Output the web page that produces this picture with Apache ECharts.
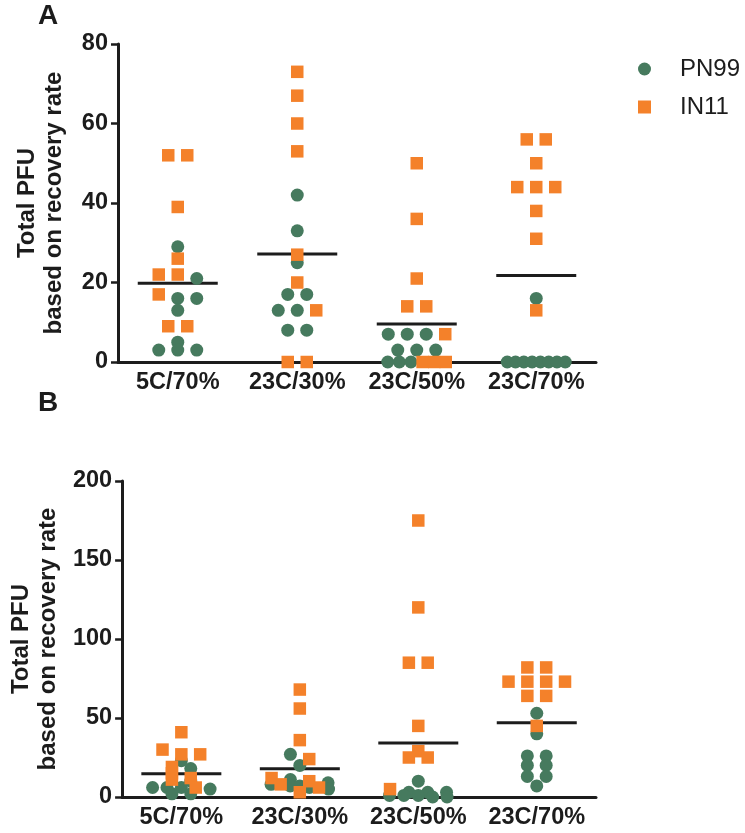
<!DOCTYPE html>
<html>
<head>
<meta charset="utf-8">
<script src="https://cdn.jsdelivr.net/npm/echarts@6/dist/echarts.min.js"></script>
<style>
  html, body { margin: 0; padding: 0; background: #fff; }
  #chart { width: 745px; height: 833px; }
</style>
</head>
<body>
<div id="chart"></div>
<script>
const groups = ['5C/70%', '23C/30%', '23C/50%', '23C/70%']
const ticksA = [0, 20, 40, 60, 80]
const ticksB = [0, 50, 100, 150, 200]

// panel A, one array per group
const pn99A = [
  [29, 21, 16, 16, 13, 5, 3, 3, 3],
  [42, 33, 25, 17, 17, 13, 13, 8, 8],
  [7, 7, 7, 3, 3, 3, 0, 0, 0],
  [16, 0, 0, 0, 0, 0, 0, 0, 0]
]
const in11A = [
  [52, 52, 39, 26, 22, 22, 17, 9, 9],
  [73, 67, 60, 53, 27, 20, 13, 0, 0],
  [50, 36, 21, 14, 14, 7, 0, 0, 0],
  [56, 56, 50, 44, 44, 44, 38, 31, 13]
]
// panel B
const pn99B = [
  [23, 18, 10, 6, 6, 6, 5, 2, 2],
  [27, 20, 11, 9, 8, 7, 7, 6, 5],
  [10, 3, 3, 3, 1, 1, 1, 0, 0],
  [53, 40, 26, 26, 20, 20, 13, 13, 7]
]
const in11B = [
  [41, 30, 27, 27, 19, 15, 12, 11, 6],
  [68, 56, 36, 24, 12, 10, 8, 6, 3],
  [175, 120, 85, 85, 45, 29, 25, 25, 5],
  [82, 82, 73, 73, 73, 73, 64, 64, 45]
]

const GREEN = '#467a5e'
const ORANGE = '#f4812a'
const INK = '#1c1c1c'
const FONT = '"Liberation Sans", Arial, sans-serif'

const gridLeft = 118
const gridW = 478
const pxPerCat = gridW / groups.length
const STEP = 19 / pxPerCat      // spacing of neighbours in a row
const MAXHALF = 29 / pxPerCat   // widest a row may spread

// lay points of one group out in rows, like a column scatter
function swarm(pn, inn, pxPerUnit) {
  const pts = []
  pn.forEach(v => pts.push({ v, s: 0 }))
  inn.forEach(v => pts.push({ v, s: 1 }))
  pts.sort((a, b) => b.v - a.v || a.s - b.s)
  const rows = []
  pts.forEach(p => {
    const r = rows[rows.length - 1]
    if (r && (r.top - p.v) * pxPerUnit < 6) r.items.push(p)
    else rows.push({ top: p.v, items: [p] })
  })
  rows.forEach(r => {
    const n = r.items.length
    let step = STEP
    if (n > 1 && (n - 1) / 2 * step > MAXHALF) step = 2 * MAXHALF / (n - 1)
    r.items.forEach((p, i) => { p.dx = (i - (n - 1) / 2) * step })
  })
  return pts
}

function panelSeries(pn, inn, idx, pxPerUnit) {
  const green = [], orange = [], means = []
  groups.forEach((g, gi) => {
    swarm(pn[gi], inn[gi], pxPerUnit).forEach(p => {
      (p.s === 0 ? green : orange).push([gi + p.dx, p.v])
    })
    const all = pn[gi].concat(inn[gi])
    means.push([gi, all.reduce((a, b) => a + b, 0) / all.length])
  })
  const base = { type: 'scatter', xAxisIndex: idx * 2 + 1, yAxisIndex: idx, clip: false, silent: true }
  return [
    { ...base, name: 'mean', data: means, symbol: 'rect', symbolSize: [80, 3], itemStyle: { color: INK, opacity: 1 }, z: 2 },
    { ...base, name: 'PN99', data: green, symbol: 'circle', symbolSize: 13, itemStyle: { color: GREEN, opacity: 1 }, z: 3 },
    { ...base, name: 'IN11', data: orange, symbol: 'rect', symbolSize: 12.5, itemStyle: { color: ORANGE, opacity: 1 }, z: 4 }
  ]
}

function catAxis(gi) {
  return {
    type: 'category', gridIndex: gi, data: groups, boundaryGap: true,
    axisLine: { onZero: false, lineStyle: { color: INK, width: 3 } },
    axisTick: { interval: 0, alignWithLabel: true, length: 7, lineStyle: { color: INK, width: 2.5 } },
    axisLabel: { interval: 0, color: INK, fontSize: 23.5, fontWeight: 'bold', fontFamily: FONT, margin: 9 },
    splitLine: { show: false }
  }
}
function posAxis(gi) {
  return { type: 'value', gridIndex: gi, min: -0.5, max: groups.length - 0.5, show: false }
}
function valAxis(gi, ticks) {
  return {
    type: 'value', gridIndex: gi,
    min: ticks[0], max: ticks[ticks.length - 1], interval: ticks[1] - ticks[0],
    name: 'Total PFU\nbased on recovery rate', nameLocation: 'middle', nameRotate: 90, nameGap: 50,
    nameTextStyle: { color: INK, fontSize: 24, fontWeight: 'bold', fontFamily: FONT, lineHeight: 27 },
    axisLine: { show: true, onZero: false, lineStyle: { color: INK, width: 3 } },
    axisTick: { show: true, length: 7, lineStyle: { color: INK, width: 2.5 } },
    axisLabel: { color: INK, fontSize: 23.5, fontWeight: 'bold', fontFamily: FONT, margin: 10 },
    splitLine: { show: false }
  }
}

const chart = echarts.init(document.getElementById('chart'), null, { renderer: 'canvas' })
chart.setOption({
  backgroundColor: '#fff',
  animation: false,
  grid: [
    { left: gridLeft, width: gridW, top: 44, height: 318 },
    { left: gridLeft, width: gridW, top: 481, height: 316 }
  ],
  xAxis: [catAxis(0), posAxis(0), catAxis(1), posAxis(1)],
  yAxis: [valAxis(0, ticksA), valAxis(1, ticksB)],
  legend: {
    orient: 'vertical', left: 633, top: 52,
    itemWidth: 13, itemHeight: 13, itemGap: 14,
    data: [{ name: 'PN99', icon: 'circle' }, { name: 'IN11', icon: 'rect' }],
    textStyle: { color: INK, fontSize: 24, fontFamily: FONT, lineHeight: 22, padding: [0, 0, 0, 24] }
  },
  graphic: [
    { type: 'text', left: 38, top: 2, style: { text: 'A', font: 'bold 28px ' + FONT, fill: INK } },
    { type: 'text', left: 38, top: 389, style: { text: 'B', font: 'bold 28px ' + FONT, fill: INK } }
  ],
  series: [
    ...panelSeries(pn99A, in11A, 0, 318 / 80),
    ...panelSeries(pn99B, in11B, 1, 316 / 200)
  ]
})
</script>
</body>
</html>
